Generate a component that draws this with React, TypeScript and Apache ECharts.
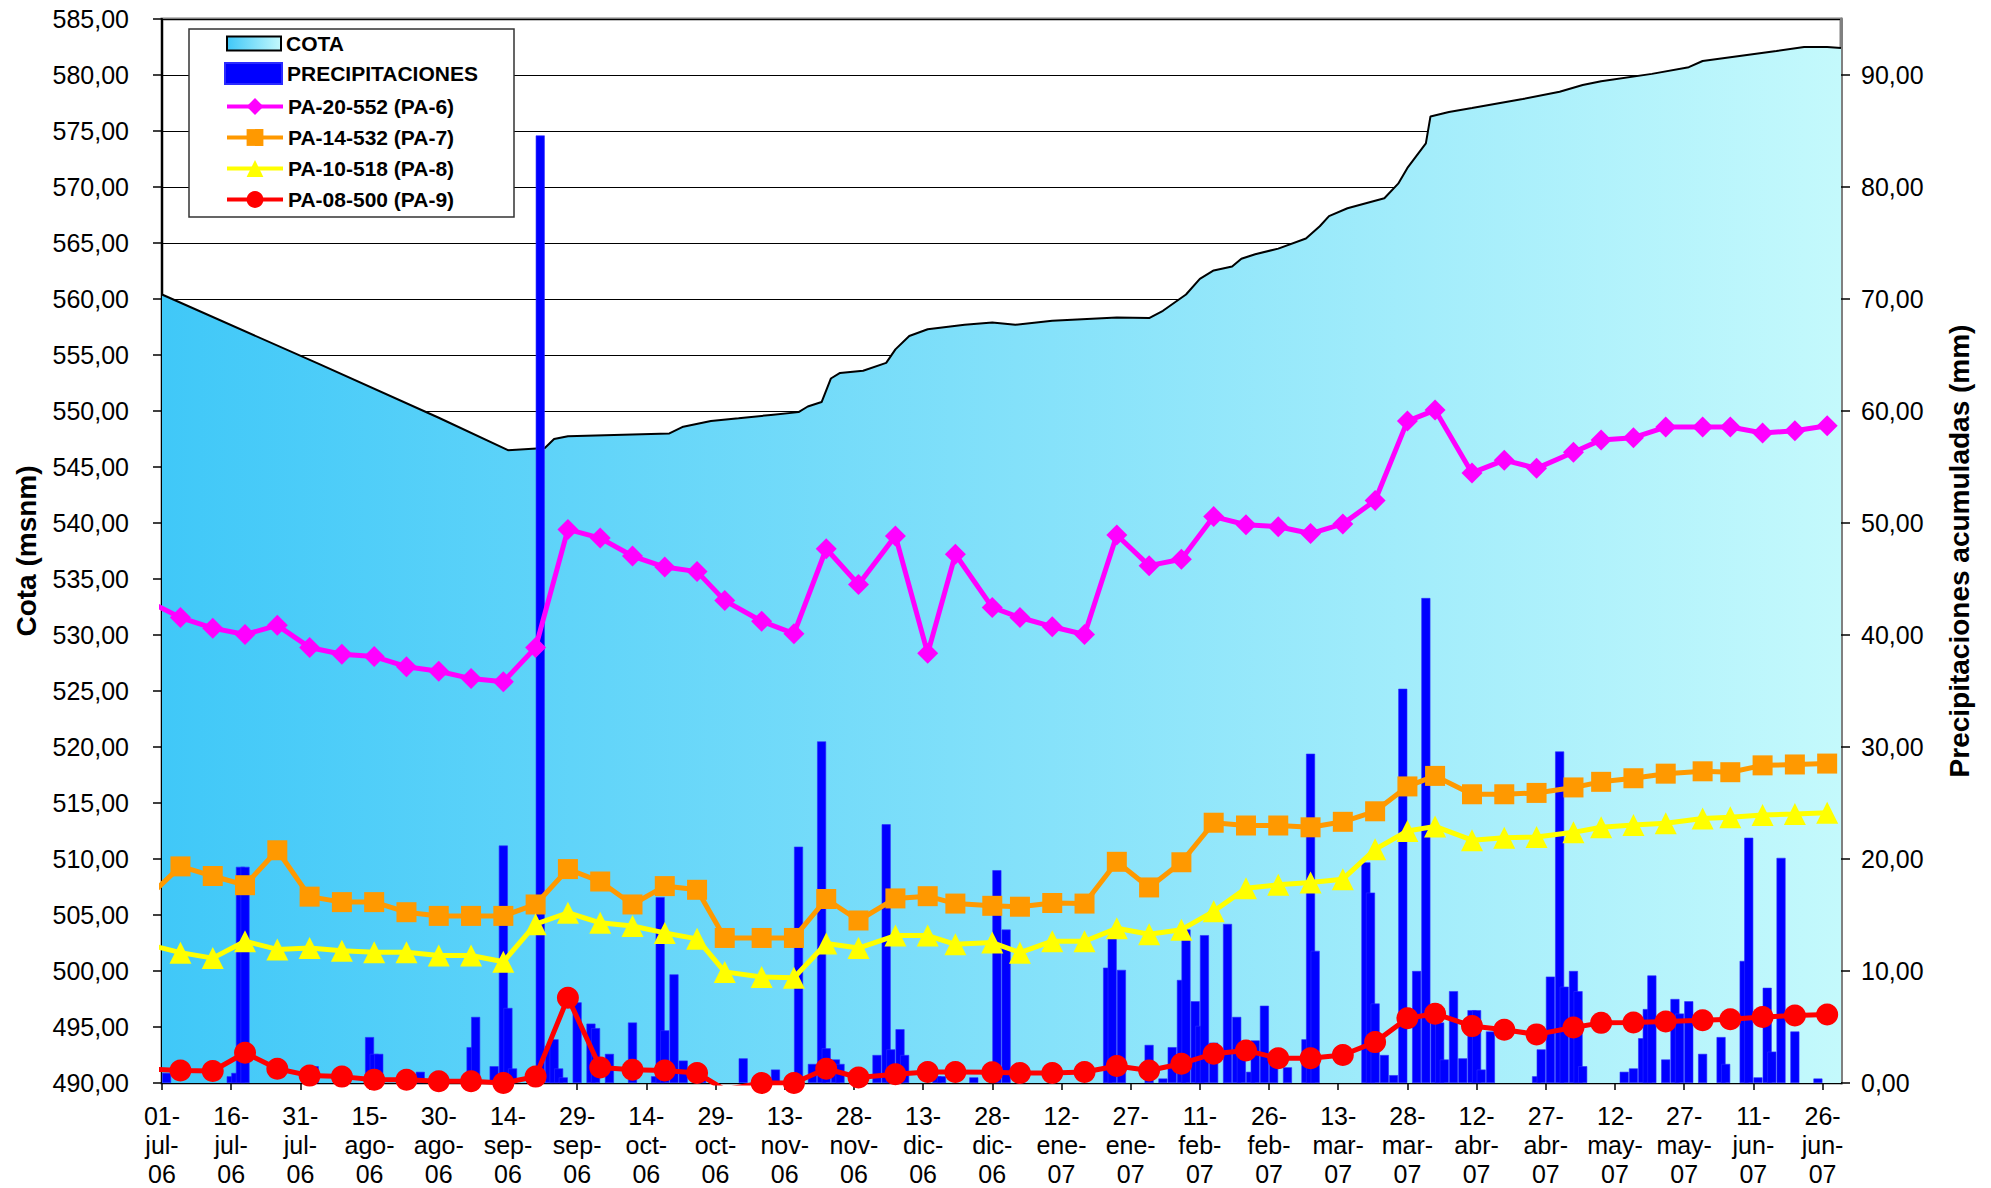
import React, { useEffect, useRef } from "react";
import * as echarts from "echarts";

// x values are days counted from 01-jul-2006
const xTickLabels = [
  "01-jul-06", "16-jul-06", "31-jul-06", "15-ago-06", "30-ago-06", "14-sep-06", "29-sep-06",
  "14-oct-06", "29-oct-06", "13-nov-06", "28-nov-06", "13-dic-06", "28-dic-06", "12-ene-07",
  "27-ene-07", "11-feb-07", "26-feb-07", "13-mar-07", "28-mar-07", "12-abr-07", "27-abr-07",
  "12-may-07", "27-may-07", "11-jun-07", "26-jun-07",
];
const xTickDays = xTickLabels.map((_, i) => i * 15);
const leftTicks = [490, 495, 500, 505, 510, 515, 520, 525, 530, 535, 540, 545, 550, 555, 560, 565, 570, 575, 580, 585];
const rightTicks = [0, 10, 20, 30, 40, 50, 60, 70, 80, 90];

const measureDay = [
  -3, 4, 11, 18, 25, 32, 39, 46, 53, 60, 67, 74, 81, 88, 95, 102, 109, 116, 122, 130, 137, 144,
  151, 159, 166, 172, 180, 186, 193, 200, 207, 214, 221, 228, 235, 242, 249, 256, 263, 270, 276,
  284, 291, 298, 306, 312, 319, 326, 334, 340, 347, 354, 361,
];

const pa6 = [
  533.0, 531.56, 530.61, 530.04, 530.86, 528.89, 528.28, 528.07, 527.17, 526.76, 526.11, 525.82,
  528.89, 539.43, 538.65, 537.05, 536.07, 535.66, 533.07, 531.23, 530.12, 537.7, 534.51, 538.85,
  528.36, 537.21, 532.46, 531.56, 530.74, 530.04, 538.93, 536.19, 536.76, 540.57, 539.84, 539.67,
  539.06, 539.92, 542.01, 549.1, 550.08, 544.47, 545.61, 544.88, 546.31, 547.42, 547.62, 548.57,
  548.57, 548.57, 548.03, 548.24, 548.69,
];
const pa7 = [
  506.6, 509.34, 508.48, 507.66, 510.78, 506.64, 506.15, 506.15, 505.25, 504.92, 504.92, 504.92,
  505.94, 509.1, 507.99, 505.94, 507.58, 507.25, 502.95, 502.95, 502.95, 506.43, 504.51, 506.48,
  506.68, 506.02, 505.82, 505.74, 506.07, 506.02, 509.75, 507.46, 509.71, 513.24, 512.99, 512.99,
  512.83, 513.32, 514.26, 516.48, 517.42, 515.78, 515.78, 515.9, 516.39, 516.89, 517.21, 517.62,
  517.83, 517.75, 518.36, 518.44, 518.52,
];
const pa8 = [
  502.36, 501.64, 501.15, 502.66, 501.93, 502.05, 501.8, 501.68, 501.68, 501.39, 501.39, 500.82,
  504.18, 505.2, 504.3, 504.02, 503.4, 502.87, 499.92, 499.47, 499.39, 502.46, 502.05, 503.16,
  503.16, 502.38, 502.54, 501.64, 502.66, 502.66, 503.81, 503.28, 503.69, 505.33, 507.38, 507.7,
  507.91, 508.2, 510.86, 512.5, 512.91, 511.68, 511.89, 511.97, 512.38, 512.83, 513.03, 513.2,
  513.61, 513.73, 513.93, 514.02, 514.14,
];
const pa9 = [
  491.25, 491.11, 491.07, 492.7, 491.27, 490.66, 490.57, 490.29, 490.29, 490.16, 490.16, 490.0,
  490.57, 497.62, 491.39, 491.19, 491.11, 490.9, 489.4, 490.0, 490.0, 491.27, 490.49, 490.78,
  490.98, 490.98, 490.95, 490.9, 490.9, 490.98, 491.52, 491.11, 491.72, 492.62, 492.91, 492.21,
  492.21, 492.5, 493.65, 495.78, 496.19, 495.08, 494.75, 494.34, 494.96, 495.37, 495.41, 495.49,
  495.61, 495.7, 495.9, 496.02, 496.11,
];

const cotaDay = [
  0, 34, 60, 75, 83, 85, 88, 110, 113, 119, 125, 132, 138, 140, 143, 145, 147, 152, 157, 159, 162,
  166, 174, 180, 185, 193, 207, 214, 217, 222, 225, 228, 232, 234, 237, 242, 248, 251, 253, 257,
  265, 268, 270, 274, 275, 279, 284, 295, 303, 308, 312, 323, 331, 334, 342, 350, 356, 361, 364,
];
const cotaValue = [
  560.4, 554.2, 549.4, 546.5, 546.7, 547.5, 547.75, 548.0, 548.6, 549.1, 549.35, 549.65, 549.9,
  550.4, 550.8, 552.9, 553.4, 553.6, 554.3, 555.5, 556.7, 557.3, 557.7, 557.9, 557.7, 558.05,
  558.35, 558.3, 558.95, 560.4, 561.8, 562.55, 562.9, 563.6, 564.0, 564.5, 565.4, 566.5, 567.4,
  568.1, 569.0, 570.3, 571.7, 573.9, 576.3, 576.7, 577.05, 577.85, 578.5, 579.1, 579.45, 580.1,
  580.7, 581.25, 581.7, 582.15, 582.5, 582.5, 582.4,
];

const precipDay = [
  1, 15, 16, 17, 18, 33, 45, 46, 47, 56, 67, 68, 72, 74, 75, 76, 82, 84, 85, 86, 87, 90, 93, 94,
  97, 102, 107, 108, 109, 111, 113, 117, 126, 133, 138, 141, 143, 144, 146, 147, 155, 157, 158,
  160, 161, 168, 169, 176, 181, 183, 205, 206, 208, 214, 217, 219, 221, 222, 224, 225, 226, 228,
  231, 233, 234, 236, 237, 239, 241, 244, 248, 249, 250, 261, 262, 263, 265, 267, 269, 272, 274,
  276, 277, 278, 280, 282, 284, 285, 286, 288, 298, 299, 301, 303, 304, 306, 307, 308, 317, 319,
  321, 322, 323, 326, 328, 329, 331, 334, 338, 339, 343, 344, 346, 348, 349, 351, 354, 359,
];
const precipMm = [
  0.9, 0.6, 0.9, 19.3, 19.3, 1.5, 4.1, 2.6, 2.6, 1.0, 3.2, 5.9, 1.5, 21.2, 6.7, 1.3, 84.6, 3.3,
  3.9, 1.3, 0.5, 7.2, 5.3, 4.9, 2.6, 5.4, 0.6, 16.6, 4.7, 9.7, 2.0, 0.6, 2.2, 1.2, 21.1, 1.7, 30.5,
  3.1, 2.1, 1.7, 2.5, 23.1, 3.0, 4.8, 2.5, 0.6, 0.6, 0.5, 19.0, 13.7, 10.3, 13.1, 10.1, 3.4, 0.4,
  3.2, 9.2, 13.7, 7.3, 5.1, 13.2, 3.6, 14.2, 5.9, 2.6, 1.0, 3.8, 6.9, 1.8, 1.4, 3.9, 29.4, 11.8,
  19.7, 17.0, 7.1, 2.5, 0.7, 35.2, 10.0, 43.3, 5.4, 5.4, 2.1, 8.2, 2.2, 6.5, 6.5, 1.2, 4.6, 0.6,
  3.0, 9.5, 29.6, 8.6, 10.0, 8.2, 1.5, 1.0, 1.3, 4.0, 6.6, 9.6, 2.1, 7.5, 6.2, 7.3, 2.6, 4.1, 1.7,
  10.9, 21.9, 0.5, 8.5, 2.8, 20.1, 4.6, 0.4,
];

const FONT = "'Liberation Sans', Arial, sans-serif";

const pairs = (xs: number[], ys: number[]) => xs.map((x, i) => [x, ys[i]]);
const fmt2 = (v: number) => v.toFixed(2).replace(".", ",");

const areaGradient = () =>
  new echarts.graphic.LinearGradient(0, 0, 1, 0, [
    { offset: 0, color: "#40C8F8" },
    { offset: 1, color: "#C4F9FC" },
  ]);

const legendText = { color: "#000", fontSize: 21, fontWeight: "bold", fontFamily: FONT };

function buildOption() {
  const lineSeries = (name: string, data: number[], color: string, symbol: string, size: number) => ({
    name,
    type: "line",
    yAxisIndex: 0,
    z: 4,
    data: pairs(measureDay, data),
    symbol,
    symbolSize: size,
    clip: true,
    lineStyle: { color, width: 5 },
    itemStyle: { color },
  });

  return {
    animation: false,
    backgroundColor: "#ffffff",
    textStyle: { fontFamily: FONT },
    grid: {
      left: 162,
      right: 150,
      top: 19,
      bottom: 103,
      show: true,
      borderColor: "#808080",
      borderWidth: 3,
      backgroundColor: "transparent",
    },
    graphic: [
      {
        type: "rect",
        z: 5,
        shape: { x: 189, y: 29, width: 325, height: 188 },
        style: { fill: "#ffffff", stroke: "#333333", lineWidth: 1.5 },
      },
    ],
    legend: [
      {
        z: 6,
        data: [
          {
            name: "COTA",
            icon: "rect",
            itemStyle: { color: areaGradient(), borderColor: "#000", borderWidth: 2 },
          },
        ],
        left: 226,
        top: 33,
        padding: 0,
        itemWidth: 54,
        itemHeight: 14,
        textStyle: legendText,
      },
      {
        z: 6,
        data: [{ name: "PRECIPITACIONES", icon: "rect" }],
        left: 224,
        top: 62,
        padding: 0,
        itemWidth: 57,
        itemHeight: 21,
        textStyle: legendText,
      },
      {
        z: 6,
        data: ["PA-20-552 (PA-6)", "PA-14-532 (PA-7)", "PA-10-518 (PA-8)", "PA-08-500 (PA-9)"],
        orient: "vertical",
        left: 225,
        top: 96,
        padding: 0,
        itemWidth: 56,
        itemHeight: 21,
        itemGap: 10,
        lineStyle: { width: 4 },
        textStyle: legendText,
      },
    ],
    xAxis: {
      type: "value",
      min: 0,
      max: 364,
      axisLine: { show: true, onZero: false, lineStyle: { color: "#000", width: 2 } },
      axisTick: {
        show: true,
        length: 7,
        customValues: xTickDays,
        lineStyle: { color: "#000", width: 1.5 },
      },
      splitLine: { show: false },
      axisLabel: {
        color: "#000",
        fontSize: 25,
        lineHeight: 29,
        margin: 18,
        customValues: xTickDays,
        fontFamily: "'Liberation Sans Narrow', 'Liberation Sans', Arial, sans-serif",
        formatter: (v: number) => {
          const i = Math.round(v / 15);
          return xTickLabels[i] ? xTickLabels[i].replace(/-/g, "-\n") : "";
        },
      },
    },
    yAxis: [
      {
        type: "value",
        position: "left",
        min: 490,
        max: 585,
        interval: 5,
        name: "Cota (msnm)",
        nameLocation: "middle",
        nameRotate: 90,
        nameGap: 122,
        nameTextStyle: { color: "#000", fontSize: 28, fontWeight: "bold", fontFamily: FONT },
        axisLine: { show: true, lineStyle: { color: "#000", width: 2 } },
        axisTick: { show: true, length: 9, customValues: leftTicks, lineStyle: { color: "#000", width: 1.5 } },
        axisLabel: { color: "#000", fontSize: 25, margin: 33, customValues: leftTicks, formatter: fmt2 },
        splitLine: { show: true, lineStyle: { color: "#000", width: 1 } },
      },
      {
        type: "value",
        position: "right",
        min: 0,
        max: 95,
        interval: 10,
        name: "Precipitaciones acumuladas (mm)",
        nameLocation: "middle",
        nameRotate: 90,
        nameGap: 104,
        nameTextStyle: { color: "#000", fontSize: 28, fontWeight: "bold", fontFamily: FONT },
        axisLine: { show: true, lineStyle: { color: "#808080", width: 3 } },
        axisTick: { show: true, length: 9, customValues: rightTicks, lineStyle: { color: "#000", width: 1.5 } },
        axisLabel: { color: "#000", fontSize: 25, margin: 20, customValues: rightTicks, formatter: fmt2 },
        splitLine: { show: false },
      },
    ],
    series: [
      {
        name: "COTA",
        type: "line",
        yAxisIndex: 0,
        z: 1,
        data: pairs(cotaDay, cotaValue),
        symbol: "none",
        lineStyle: { color: "#000", width: 2 },
        itemStyle: { color: "#40C8F8" },
        areaStyle: { color: areaGradient(), opacity: 1, origin: "start" },
      },
      {
        name: "PRECIPITACIONES",
        type: "bar",
        yAxisIndex: 1,
        z: 3,
        data: pairs(precipDay, precipMm),
        barWidth: 9,
        itemStyle: { color: "#0000FF", borderColor: "#2B2BFF", borderWidth: 0.6 },
      },
      lineSeries("PA-20-552 (PA-6)", pa6, "#FF00FF", "diamond", 21),
      lineSeries("PA-14-532 (PA-7)", pa7, "#FF9900", "rect", 20),
      lineSeries("PA-10-518 (PA-8)", pa8, "#FFFF00", "triangle", 22),
      lineSeries("PA-08-500 (PA-9)", pa9, "#FF0000", "circle", 22),
    ],
  };
}

export default function App() {
  const ref = useRef<HTMLDivElement>(null);
  useEffect(() => {
    if (!ref.current) return;
    const chart = echarts.init(ref.current, undefined, { renderer: "svg" });
    chart.setOption(buildOption() as any);
    return () => chart.dispose();
  }, []);
  return (
    <div
      ref={ref}
      style={{ position: "absolute", left: 0, top: 0, width: 1991, height: 1188, background: "#fff" }}
    />
  );
}
